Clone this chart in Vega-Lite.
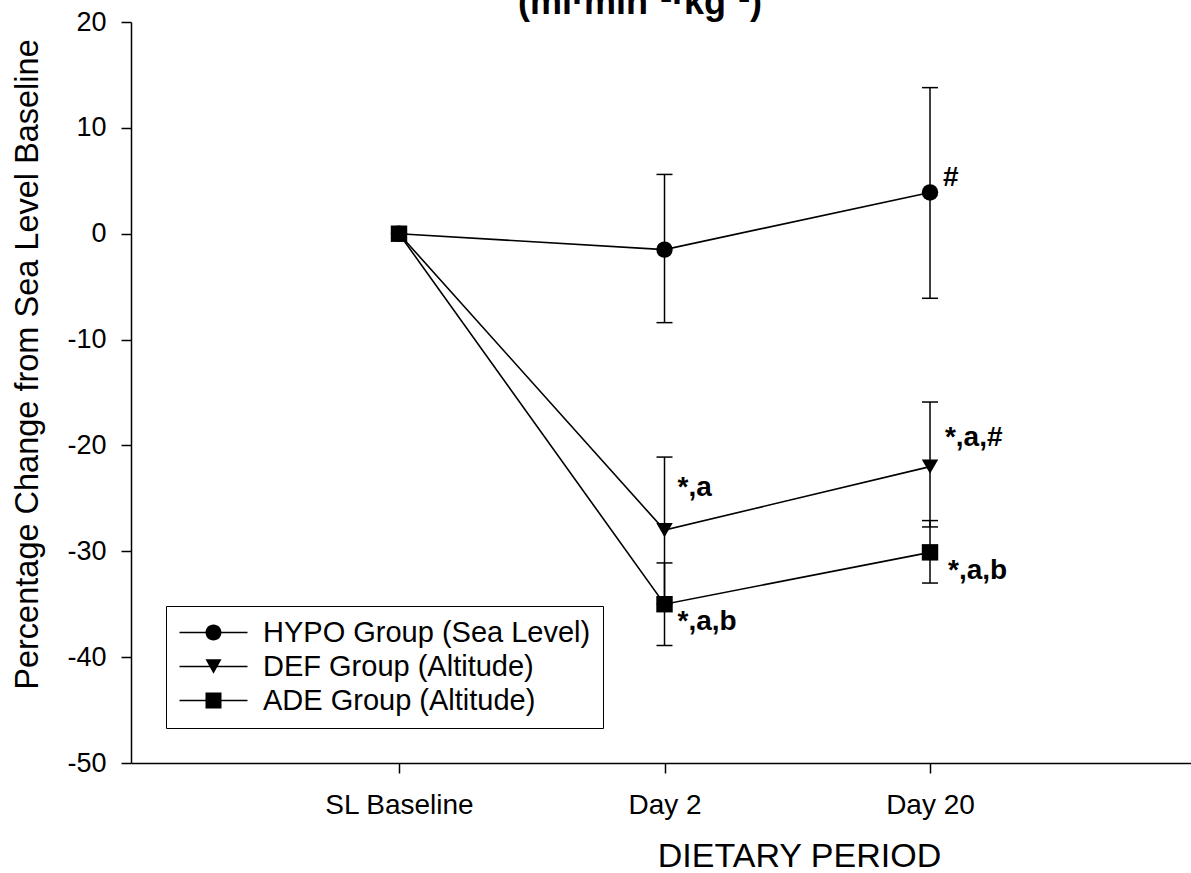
{
  "$schema": "https://vega.github.io/schema/vega-lite/v6.json",
  "width": 1060,
  "height": 741,
  "autosize": {"type": "none"},
  "padding": {"left": 131, "top": 22, "right": 0, "bottom": 110},
  "background": "white",
  "title": {
    "text": "(ml·min⁻¹·kg⁻¹)",
    "fontSize": 36,
    "fontWeight": "bold",
    "color": "black",
    "anchor": "middle",
    "baseline": "alphabetic",
    "offset": 6,
    "dy": 48,
    "dx": -21
  },
  "config": {
    "font": "Liberation Sans",
    "view": {"stroke": null},
    "axis": {
      "grid": false,
      "domainColor": "black",
      "domainWidth": 1.5,
      "tickColor": "black",
      "tickWidth": 1.5,
      "tickSize": 10,
      "labelColor": "black",
      "titleColor": "black",
      "titleFontWeight": "normal"
    }
  },
  "datasets": {
    "means": [
      {"group": "ADE Group (Altitude)", "day": 1, "pct": 0},
      {"group": "ADE Group (Altitude)", "day": 2, "pct": -35.0},
      {"group": "ADE Group (Altitude)", "day": 3, "pct": -30.1},
      {"group": "DEF Group (Altitude)", "day": 1, "pct": 0},
      {"group": "DEF Group (Altitude)", "day": 2, "pct": -28.0},
      {"group": "DEF Group (Altitude)", "day": 3, "pct": -22.0},
      {"group": "HYPO Group (Sea Level)", "day": 1, "pct": 0},
      {"group": "HYPO Group (Sea Level)", "day": 2, "pct": -1.5},
      {"group": "HYPO Group (Sea Level)", "day": 3, "pct": 3.9}
    ],
    "errors": [
      {"group": "HYPO Group (Sea Level)", "day": 2, "lo": -8.4, "hi": 5.6},
      {"group": "HYPO Group (Sea Level)", "day": 3, "lo": -6.1, "hi": 13.8},
      {"group": "DEF Group (Altitude)", "day": 2, "lo": -35.0, "hi": -21.1},
      {"group": "DEF Group (Altitude)", "day": 3, "lo": -27.7, "hi": -15.9},
      {"group": "ADE Group (Altitude)", "day": 2, "lo": -38.9, "hi": -31.1},
      {"group": "ADE Group (Altitude)", "day": 3, "lo": -33.0, "hi": -27.1}
    ],
    "notes": [
      {"day": 3.049, "pct": 5.3, "note": "#"},
      {"day": 2.049, "pct": -24.0, "note": "*,a"},
      {"day": 2.049, "pct": -36.7, "note": "*,a,b"},
      {"day": 3.056, "pct": -19.3, "note": "*,a,#"},
      {"day": 3.068, "pct": -31.9, "note": "*,a,b"}
    ]
  },
  "resolve": {"scale": {"shape": "independent"}, "legend": {"shape": "independent"}},
  "layer": [
    {
      "data": {"name": "means"},
      "mark": {"type": "line", "color": "black", "strokeWidth": 1.6},
      "encoding": {
        "x": {
          "field": "day",
          "type": "quantitative",
          "scale": {"domain": [-0.0094, 3.983], "nice": false, "zero": false},
          "axis": {
            "values": [1, 2, 3],
            "labelExpr": "datum.value == 1 ? 'SL Baseline' : datum.value == 2 ? 'Day 2' : 'Day 20'",
            "labelFontSize": 28,
            "labelPadding": 18,
            "labelFlush": false,
            "labelOverlap": false,
            "title": "DIETARY PERIOD",
            "titleFontSize": 34,
            "titleX": 668,
            "titleY": 103,
            "titleAlign": "center",
            "titleBaseline": "alphabetic"
          }
        },
        "y": {
          "field": "pct",
          "type": "quantitative",
          "scale": {"domain": [-50, 20], "nice": false, "zero": false},
          "axis": {
            "values": [-50, -40, -30, -20, -10, 0, 10, 20],
            "labelExpr": "replace(datum.label, '−', '-')",
            "labelFontSize": 27,
            "labelPadding": 15,
            "title": "Percentage Change from Sea Level Baseline",
            "titleFontSize": 32.5,
            "titleAngle": -90,
            "titleX": -94,
            "titleY": 342,
            "titleAlign": "center",
            "titleBaseline": "alphabetic"
          }
        },
        "detail": {"field": "group", "type": "nominal"}
      }
    },
    {
      "data": {"name": "errors"},
      "mark": {"type": "rule", "color": "black", "strokeWidth": 1.5},
      "encoding": {
        "x": {"field": "day", "type": "quantitative"},
        "y": {"field": "lo", "type": "quantitative"},
        "y2": {"field": "hi"}
      }
    },
    {
      "data": {"name": "errors"},
      "mark": {"type": "tick", "orient": "horizontal", "color": "black", "size": 16, "thickness": 1.5, "opacity": 1},
      "encoding": {
        "x": {"field": "day", "type": "quantitative"},
        "y": {"field": "lo", "type": "quantitative"}
      }
    },
    {
      "data": {"name": "errors"},
      "mark": {"type": "tick", "orient": "horizontal", "color": "black", "size": 16, "thickness": 1.5, "opacity": 1},
      "encoding": {
        "x": {"field": "day", "type": "quantitative"},
        "y": {"field": "hi", "type": "quantitative"}
      }
    },
    {
      "data": {"name": "means"},
      "mark": {"type": "point", "filled": true, "color": "black", "opacity": 1, "size": 270},
      "encoding": {
        "x": {"field": "day", "type": "quantitative"},
        "y": {"field": "pct", "type": "quantitative"},
        "order": {"field": "group", "sort": "ascending"},
        "shape": {
          "field": "group",
          "type": "nominal",
          "scale": {
            "domain": ["HYPO Group (Sea Level)", "DEF Group (Altitude)", "ADE Group (Altitude)"],
            "range": ["circle", "triangle-down", "square"]
          },
          "legend": null
        }
      }
    },
    {
      "data": {"name": "means"},
      "transform": [{"filter": "datum.day > 10"}],
      "mark": {"type": "point", "filled": true, "color": "black", "opacity": 1},
      "encoding": {
        "x": {"field": "day", "type": "quantitative"},
        "y": {"field": "pct", "type": "quantitative"},
        "shape": {
          "field": "group",
          "type": "nominal",
          "scale": {
            "domain": ["HYPO Group (Sea Level)", "DEF Group (Altitude)", "ADE Group (Altitude)"],
            "range": [
              "M-4.25,-0.1H4.25V0.1H-4.25ZM-1,0A1,1,0,1,1,1,0A1,1,0,1,1,-1,0Z",
              "M-4.25,-0.1H4.25V0.1H-4.25ZM0,0.9L-1,-0.9L1,-0.9Z",
              "M-4.25,-0.1H4.25V0.1H-4.25ZM-1,-1H1V1H-1Z"
            ]
          },
          "legend": {
            "title": null,
            "orient": "none",
            "legendX": 35,
            "legendY": 584,
            "fillColor": "white",
            "strokeColor": "black",
            "padding": 12,
            "labelFontSize": 29,
            "labelColor": "black",
            "labelLimit": 0,
            "symbolSize": 256,
            "symbolOffset": 21,
            "labelOffset": 35,
            "rowPadding": 4,
            "symbolFillColor": "black"
          }
        }
      }
    },
    {
      "data": {"name": "notes"},
      "mark": {"type": "text", "align": "left", "baseline": "middle", "fontSize": 28, "fontWeight": "bold", "color": "black"},
      "encoding": {
        "x": {"field": "day", "type": "quantitative"},
        "y": {"field": "pct", "type": "quantitative"},
        "text": {"field": "note"}
      }
    }
  ]
}
